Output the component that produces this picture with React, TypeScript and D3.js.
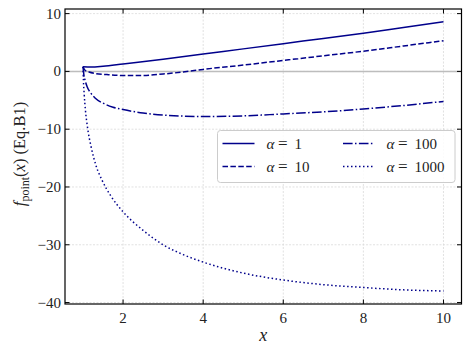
import React from "react";
import * as d3 from "d3";

const xs1 = [1, 1.2, 1.5, 2, 3, 4, 5, 6, 7, 8, 9, 10];
const ys1 = [0.8, 0.75, 0.9, 1.3, 2.1, 3.0, 3.9, 4.8, 5.7, 6.6, 7.6, 8.6];

const xs10 = [1, 1.05, 1.15, 1.3, 1.6, 2, 2.5, 3, 3.5, 4, 5, 6, 7, 8, 9, 10];
const ys10 = [0.8, 0.2, -0.1, -0.35, -0.55, -0.7, -0.7, -0.45, -0.1, 0.35, 1.1, 1.9, 2.7, 3.5, 4.4, 5.3];

const xs100 = [1, 1.02, 1.05, 1.1, 1.2, 1.3, 1.5, 1.75, 2, 2.5, 3, 4, 5, 6, 7, 8, 9, 10];
const ys100 = [0.8, -0.5, -1.5, -2.6, -3.8, -4.6, -5.5, -6.2, -6.6, -7.2, -7.55, -7.8, -7.7, -7.35, -7.0, -6.5, -5.9, -5.2];

const xs1000 = [1, 1.01, 1.03, 1.06, 1.11, 1.2, 1.32, 1.48, 1.69, 2, 2.5, 3, 3.5, 4, 5, 6, 7, 8, 9, 10];
const ys1000 = [0.8, -1.5, -4, -6.7, -9.6, -13, -16.2, -18.9, -21.5, -24.3, -27.5, -30, -31.7, -33.0, -34.9, -36.1, -36.9, -37.4, -37.8, -38.0];

const xTicks = [2, 4, 6, 8, 10];
const yTicks = [10, 0, -10, -20, -30, -40];
const seriesLabels = ["1", "10", "100", "1000"];

const W = 470, H = 354;
const left = 65, right = 461.5, top = 9, bottom = 304;
const color = "#00008b";
const font = "'Liberation Serif', 'DejaVu Serif', serif";

const dashes = ["", "5.5 2.4", "9.6 2.4 1.5 2.4", "1.5 2.5"];

export default function App() {
  const x = d3.scaleLinear().domain([0.55, 10.45]).range([left, right]);
  const y = d3.scaleLinear().domain([-40.25, 10.8]).range([bottom, top]);
  const line = d3
    .line<[number, number]>()
    .x((d) => x(d[0]))
    .y((d) => y(d[1]))
    .curve(d3.curveMonotoneX);

  const series = [
    { xs: xs1, ys: ys1 },
    { xs: xs10, ys: ys10 },
    { xs: xs100, ys: ys100 },
    { xs: xs1000, ys: ys1000 },
  ];

  const legendX = 217.5, legendY = 130.5, legendW = 237.5, legendH = 52;
  const rowY = [143.5, 166.5];
  const colLine = [[222.5, 254.5], [343, 372.5]];
  const colText = [266.5, 386.5];
  const order = [
    [0, 0, 0],
    [1, 1, 0],
    [2, 0, 1],
    [3, 1, 1],
  ];

  return (
    <svg width={W} height={H} style={{ position: "absolute", left: 0, top: 0 }} fontFamily={font}>
      <rect x={0} y={0} width={W} height={H} fill="white" />
      {xTicks.map((t) => (
        <line key={"gx" + t} x1={x(t)} x2={x(t)} y1={top} y2={bottom} stroke="#d9d9d9" strokeWidth={0.8} strokeDasharray="2 1.5" />
      ))}
      {yTicks.map((t) => (
        <line key={"gy" + t} x1={left} x2={right} y1={y(t)} y2={y(t)} stroke="#d9d9d9" strokeWidth={0.8} strokeDasharray="2 1.5" />
      ))}
      <line x1={left} x2={right} y1={y(0)} y2={y(0)} stroke="#bdbdbd" strokeWidth={1.5} />
      <g>
        {series.map((s, i) => (
          <path
            key={i}
            d={line(s.xs.map((v, j) => [v, s.ys[j]]) as [number, number][]) || ""}
            fill="none"
            stroke={color}
            strokeWidth={1.5}
            strokeDasharray={dashes[i] || undefined}
          />
        ))}
      </g>
      <rect x={left} y={top} width={right - left} height={bottom - top} fill="none" stroke="black" strokeWidth={1.2} />
      {xTicks.map((t) => (
        <g key={"tx" + t}>
          <line x1={x(t)} x2={x(t)} y1={bottom} y2={bottom - 4.5} stroke="black" strokeWidth={1} />
          <line x1={x(t)} x2={x(t)} y1={top} y2={top + 4.5} stroke="black" strokeWidth={1} />
          <text x={x(t)} y={bottom + 18.5} textAnchor="middle" fontSize={15} fill="#222">
            {t}
          </text>
        </g>
      ))}
      {yTicks.map((t) => (
        <g key={"ty" + t}>
          <line x1={left} x2={left + 4.5} y1={y(t)} y2={y(t)} stroke="black" strokeWidth={1} />
          <line x1={right} x2={right - 4.5} y1={y(t)} y2={y(t)} stroke="black" strokeWidth={1} />
          <text x={left - 4} y={y(t) + 5} textAnchor="end" fontSize={15} fill="#222">
            {t < 0 ? "\u2212" + Math.abs(t) : String(t)}
          </text>
        </g>
      ))}
      <text x={(left + right) / 2} y={341} textAnchor="middle" fontSize={18} fontStyle="italic" fill="#222">
        x
      </text>
      <text transform={`translate(25,154) rotate(-90)`} textAnchor="middle" fontSize={16.5} fill="#222">
        <tspan fontStyle="italic">f</tspan>
        <tspan fontSize={12} dy={4}>point</tspan>
        <tspan dy={-4}>(</tspan>
        <tspan fontStyle="italic">x</tspan>
        <tspan>) (Eq.B1)</tspan>
      </text>
      <rect x={legendX} y={legendY} width={legendW} height={legendH} rx={3} fill="white" fillOpacity={0.85} stroke="#cccccc" strokeWidth={1} />
      {order.map(([si, r, c]) => (
        <g key={"lg" + si}>
          <line
            x1={colLine[c][0]}
            x2={colLine[c][1]}
            y1={rowY[r]}
            y2={rowY[r]}
            stroke={color}
            strokeWidth={1.5}
            strokeDasharray={dashes[si] || undefined}
          />
          <text y={rowY[r] + 5} fontSize={15} fill="#222">
            <tspan x={colText[c]} fontStyle="italic">α</tspan>
            <tspan x={colText[c] + 11.5} fontSize={17}>=</tspan>
            <tspan x={colText[c] + 28}>{seriesLabels[si]}</tspan>
          </text>
        </g>
      ))}
    </svg>
  );
}
